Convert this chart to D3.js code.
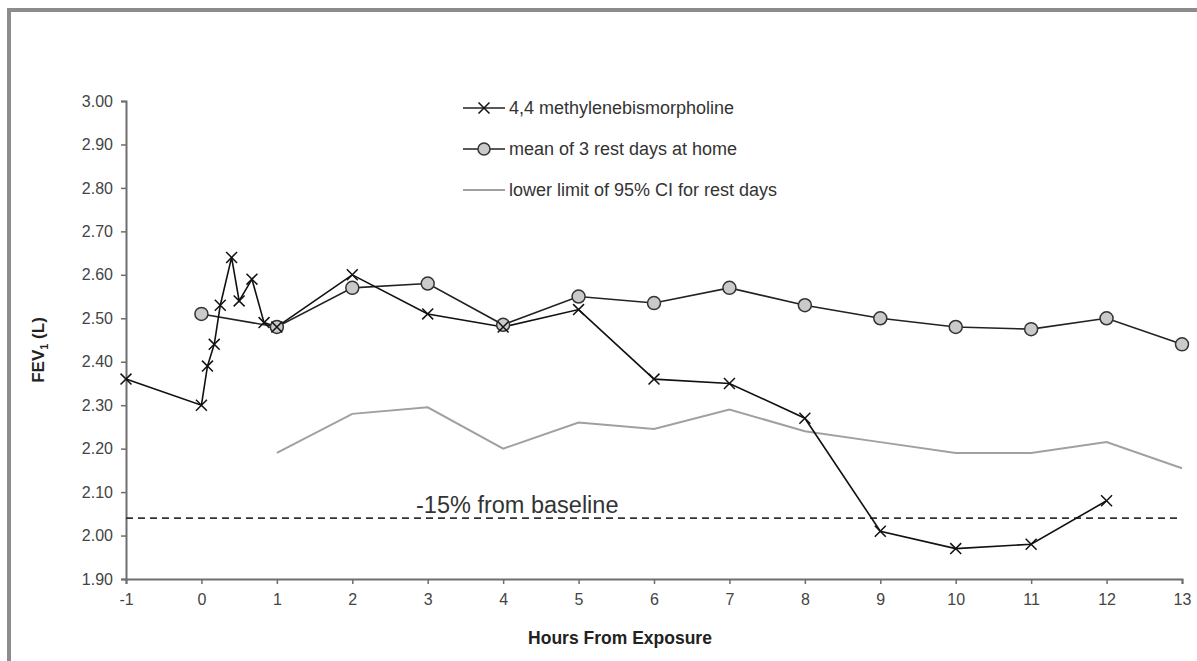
<!DOCTYPE html>
<html>
<head>
<meta charset="utf-8">
<script src="https://cdn.jsdelivr.net/npm/d3@7"></script>
<style>
  body { margin: 0; background: #fff; }
  svg { display: block; font-family: Arial, "Liberation Sans", sans-serif; }
</style>
</head>
<body>
<div id="chart"></div>
<script>
    // exposure day, hours from exposure
    var expHours = [-1, 0, 0.08, 0.17, 0.25, 0.4, 0.5, 0.67, 0.83, 1, 2, 3, 4, 5, 6, 7, 8, 9, 10, 11, 12];
    var expFev = [2.36, 2.30, 2.39, 2.44, 2.53, 2.64, 2.54, 2.59, 2.49, 2.48, 2.60, 2.51, 2.48, 2.52, 2.36, 2.35, 2.27, 2.01, 1.97, 1.98, 2.08];

    // mean of rest days
    var restHours = [0, 1, 2, 3, 4, 5, 6, 7, 8, 9, 10, 11, 12, 13];
    var restFev = [2.51, 2.48, 2.57, 2.58, 2.485, 2.55, 2.535, 2.57, 2.53, 2.50, 2.48, 2.475, 2.50, 2.44];

    // lower limit of 95% CI
    var lowerHours = [1, 2, 3, 4, 5, 6, 7, 8, 9, 10, 11, 12, 13];
    var lowerFev = [2.19, 2.28, 2.295, 2.20, 2.26, 2.245, 2.29, 2.24, 2.215, 2.19, 2.19, 2.215, 2.155];

    var baselineLimit = 2.04;
    var xTicks = d3.range(-1, 14);
    var yTicks = d3.range(0, 12).map(function(i) { return 1.9 + i * 0.1; });
    var legendLabels = ["4,4 methylenebismorpholine", "mean of 3 rest days at home", "lower limit of 95% CI for rest days"];

    var width = 1197,
        height = 661,
        margin = {top: 101, right: 15, bottom: 82, left: 126};

    var svg = d3.select("#chart").append("svg")
      .attr("width", width)
      .attr("height", height);

    // frame, only top and left edges are in view
    svg.append("rect")
      .attr("x", 9).attr("y", 10)
      .attr("width", width + 20)
      .attr("height", height + 20)
      .style("fill", "#fff")
      .style("stroke", "#8c8c8c")
      .style("stroke-width", 4);

    var x = d3.scaleLinear()
      .domain([-1, 13])
      .range([margin.left, width - margin.right]);

    var y = d3.scaleLinear()
      .domain([1.9, 3.0])
      .range([height - margin.bottom, margin.top]);

    var xAxis = svg.append("g")
      .attr("transform", "translate(0," + y(1.9) + ")")
      .call(d3.axisBottom(x).tickValues(xTicks).tickSize(5).tickPadding(10)
        .tickFormat(function(d) { return String(d); }));

    var yAxis = svg.append("g")
      .attr("transform", "translate(" + x(-1) + ",0)")
      .call(d3.axisLeft(y).tickValues(yTicks).tickSize(5).tickPadding(8).tickFormat(d3.format(".2f")));

    [xAxis, yAxis].forEach(function(ax) {
      ax.select(".domain").attr("stroke", "#6e6e6e").attr("stroke-width", 2);
      ax.selectAll(".tick line").attr("stroke", "#6e6e6e").attr("stroke-width", 1.5);
      ax.selectAll(".tick text")
        .style("font-size", "16px")
        .style("font-family", "Arial, 'Liberation Sans', sans-serif")
        .attr("fill", "#444");
    });

    // axis titles
    svg.append("text")
      .attr("x", 620)
      .attr("y", 644)
      .attr("text-anchor", "middle")
      .style("font-size", "17.5px")
      .style("font-weight", "bold")
      .attr("fill", "#222")
      .text("Hours From Exposure");

    var yTitle = svg.append("text")
      .attr("transform", "translate(44,350) rotate(-90)")
      .attr("text-anchor", "middle")
      .style("font-size", "17px")
      .style("font-weight", "bold")
      .attr("fill", "#222");
    yTitle.append("tspan").text("FEV");
    yTitle.append("tspan").attr("dy", 4).style("font-size", "11px").text("1");
    yTitle.append("tspan").attr("dy", -4).text(" (L)");

    // -15% from baseline
    svg.append("line")
      .attr("x1", x(-1)).attr("x2", x(13))
      .attr("y1", y(baselineLimit)).attr("y2", y(baselineLimit))
      .style("stroke", "#333")
      .style("stroke-width", 1.6)
      .style("stroke-dasharray", "7,5");

    svg.append("text")
      .attr("x", 416)
      .attr("y", y(baselineLimit) - 5)
      .style("font-size", "23.5px")
      .attr("fill", "#333")
      .text("-15% from baseline");

    var line = d3.line()
      .x(function(d) { return x(d[0]); })
      .y(function(d) { return y(d[1]); });

    var lowerData = d3.zip(lowerHours, lowerFev),
        restData = d3.zip(restHours, restFev),
        expData = d3.zip(expHours, expFev);

    svg.append("path")
      .datum(lowerData)
      .attr("d", line)
      .style("fill", "none")
      .style("stroke", "#a0a0a0")
      .style("stroke-width", 2);

    svg.append("path")
      .datum(restData)
      .attr("d", line)
      .style("fill", "none")
      .style("stroke", "#222")
      .style("stroke-width", 1.6);

    svg.append("path")
      .datum(expData)
      .attr("d", line)
      .style("fill", "none")
      .style("stroke", "#111")
      .style("stroke-width", 1.6);

    var cross = d3.symbol().type(d3.symbolX).size(80);

    svg.selectAll(".rest")
      .data(restData)
      .enter().append("circle")
      .attr("class", "rest")
      .attr("cx", function(d) { return x(d[0]); })
      .attr("cy", function(d) { return y(d[1]); })
      .attr("r", 6.5)
      .style("fill", "#cacaca")
      .style("stroke", "#333")
      .style("stroke-width", 1.5);

    svg.selectAll(".exp")
      .data(expData)
      .enter().append("path")
      .attr("class", "exp")
      .attr("d", cross)
      .attr("transform", function(d) { return "translate(" + x(d[0]) + "," + y(d[1]) + ")"; })
      .style("fill", "none")
      .style("stroke", "#111")
      .style("stroke-width", 1.5);

    // legend
    var legend = svg.selectAll(".legend")
      .data(legendLabels)
      .enter().append("g")
        .attr("class", "legend")
        .attr("transform", function(d, i) { return "translate(463," + (108 + i * 41) + ")"; });

    legend.append("line")
      .attr("x1", 0).attr("x2", 42)
      .attr("y1", 0).attr("y2", 0)
      .style("stroke", function(d, i) { return i == 2 ? "#a0a0a0" : "#222"; })
      .style("stroke-width", function(d, i) { return i == 2 ? 2 : 1.6; });

    legend.filter(function(d, i) { return i == 0; })
      .append("path")
      .attr("d", cross)
      .attr("transform", "translate(21,0)")
      .style("fill", "none")
      .style("stroke", "#111")
      .style("stroke-width", 1.5);

    legend.filter(function(d, i) { return i == 1; })
      .append("circle")
      .attr("cx", 21).attr("r", 6)
      .style("fill", "#cacaca")
      .style("stroke", "#333")
      .style("stroke-width", 1.5);

    legend.append("text")
      .attr("x", 46)
      .attr("dy", ".35em")
      .style("font-size", "18px")
      .attr("fill", "#333")
      .text(function(d) { return d; });
</script>
</body>
</html>
